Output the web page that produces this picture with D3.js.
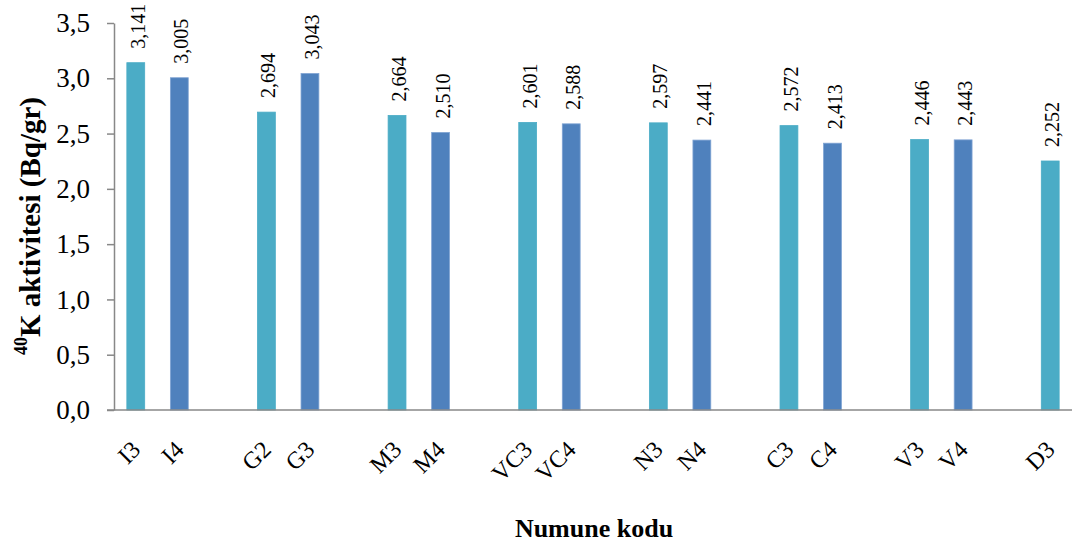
<!DOCTYPE html>
<html>
<head>
<meta charset="utf-8">
<script src="https://cdn.jsdelivr.net/npm/d3@7/dist/d3.min.js"></script>
<style>
  body { margin: 0; background: #fff; }
  svg { display: block; }
</style>
</head>
<body>
<svg id="chart" width="1074" height="548"></svg>
<script>
// Sample codes (empty strings leave a gap between sample groups)
const categories = ["I3", "I4", "", "G2", "G3", "", "M3", "M4", "", "VC3", "VC4", "",
                    "N3", "N4", "", "C3", "C4", "", "V3", "V4", "", "D3"];
// 40K activity values (Bq/gr); null for gap slots
const values = [3.141, 3.005, null, 2.694, 3.043, null, 2.664, 2.510, null, 2.601, 2.588, null,
                2.597, 2.441, null, 2.572, 2.413, null, 2.446, 2.443, null, 2.252];
// Series index per slot: 0 = first sample of pair, 1 = second
const seriesIdx = [0, 1, null, 0, 1, null, 0, 1, null, 0, 1, null,
                   0, 1, null, 0, 1, null, 0, 1, null, 0];
const yTicks = [0, 0.5, 1.0, 1.5, 2.0, 2.5, 3.0, 3.5];
const colors = ["#4BACC6", "#4F81BD"];
const strokes = ["#4BACC6", "#7FA3D3"];

const FONT = "'Liberation Serif', 'Times New Roman', Times, serif";

const svg = d3.select("#chart").attr("font-family", FONT);
const margin = { left: 114, right: 2, top: 23, bottom: 138 };
const W = 1074, H = 548;

const x = d3.scaleBand()
  .domain(d3.range(categories.length))
  .range([margin.left, W - margin.right])
  .paddingInner(0.59).paddingOuter(0.295);

const y = d3.scaleLinear().domain([0, 3.5]).range([H - margin.bottom, margin.top]);

const fmt = v => v.toFixed(1).replace(".", ",");
const fmt3 = v => v.toFixed(3).replace(".", ",");

// Y axis
const yAxis = svg.append("g")
  .attr("transform", `translate(${margin.left},0)`)
  .call(d3.axisLeft(y).tickValues(yTicks).tickFormat(fmt).tickSize(7).tickSizeOuter(0));
yAxis.attr("font-family", FONT).attr("font-size", 27);
yAxis.select(".domain").attr("stroke", "#888").attr("stroke-width", 1.5);
yAxis.selectAll(".tick line").attr("stroke", "#888").attr("stroke-width", 1.5);
yAxis.selectAll(".tick text").attr("x", -24).attr("fill", "#000");

// Bars
const data = categories.map((c, i) => ({ c, v: values[i], s: seriesIdx[i], i }))
  .filter(d => d.v !== null);

svg.append("g").selectAll("rect")
  .data(data)
  .join("rect")
  .attr("x", d => x(d.i))
  .attr("width", x.bandwidth())
  .attr("y", d => y(d.v))
  .attr("height", d => y(0) - y(d.v))
  .attr("fill", d => colors[d.s])
  .attr("stroke", d => strokes[d.s])
  .attr("stroke-width", 0.8);

// Value labels (rotated)
svg.append("g").attr("font-size", 20).selectAll("text")
  .data(data)
  .join("text")
  .attr("transform", d => `translate(${x(d.i) + x.bandwidth() / 2 + 9},${y(d.v) - 14}) rotate(-90)`)
  .attr("text-anchor", "start")
  .attr("fill", "#000")
  .text(d => fmt3(d.v));

// X axis baseline
const xAxis = svg.append("g")
  .attr("transform", `translate(0,${y(0)})`)
  .call(d3.axisBottom(x).tickSize(0).tickSizeOuter(0).tickFormat(""));
xAxis.select(".domain").attr("stroke", "#888").attr("stroke-width", 1.5)
  .attr("d", `M${margin.left - 7},0H${W - margin.right}`);

// Category labels, rotated 45 degrees
svg.append("g").attr("font-size", 24).selectAll("text")
  .data(categories.map((c, i) => ({ c, i })).filter(d => d.c !== ""))
  .join("text")
  .attr("transform", d => `translate(${x(d.i) + x.bandwidth() / 2 + 6},${y(0) + 41}) rotate(-45)`)
  .attr("text-anchor", "end")
  .attr("fill", "#000")
  .text(d => d.c);

// Axis titles
const yTitle = svg.append("text")
  .attr("transform", "translate(35,226) rotate(-90)")
  .attr("text-anchor", "middle")
  .attr("font-size", 29)
  .attr("font-weight", "bold")
  .attr("fill", "#000");
yTitle.append("tspan").attr("dy", "-0.45em").attr("font-size", 18).text("40");
yTitle.append("tspan").attr("dy", "0.45em").text("K aktivitesi (Bq/gr)");

svg.append("text")
  .attr("x", 594).attr("y", 537)
  .attr("text-anchor", "middle")
  .attr("font-size", 26)
  .attr("font-weight", "bold")
  .attr("fill", "#000")
  .text("Numune kodu");
</script>
</body>
</html>
